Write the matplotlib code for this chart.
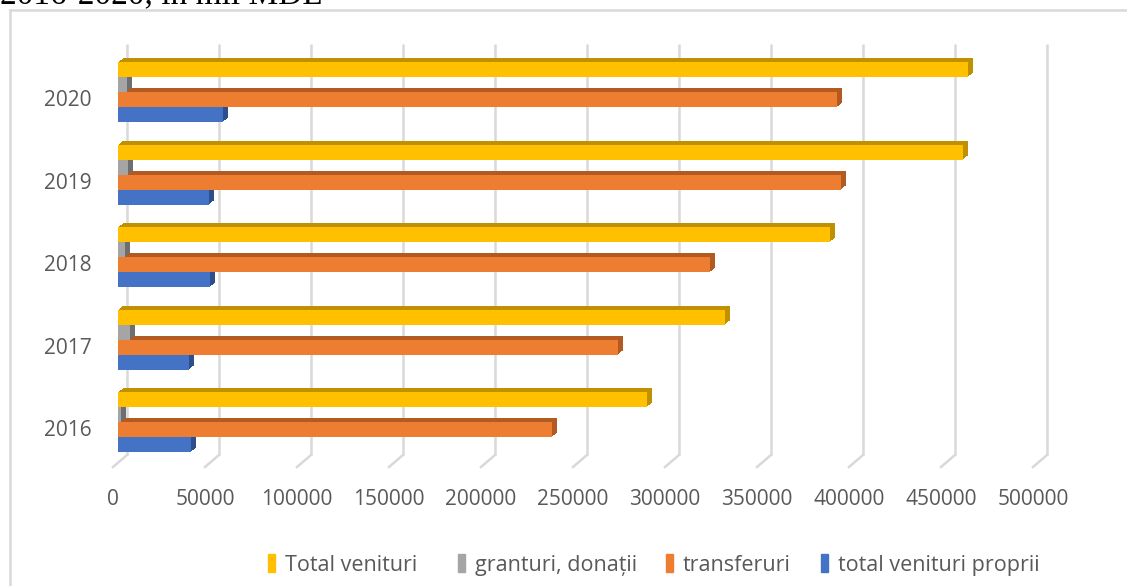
import matplotlib
matplotlib.use("Agg")
import matplotlib.pyplot as plt
import numpy as np
from matplotlib.transforms import ScaledTranslation, IdentityTransform
from matplotlib.lines import Line2D
from matplotlib.patches import Patch

# ---- data (mii MDL) ----
years = ["2016", "2017", "2018", "2019", "2020"]
total_venituri = [287500, 330000, 387000, 459000, 462000]
granturi_donatii = [1500, 6500, 3800, 5400, 4900]
transferuri = [236000, 272000, 322000, 393000, 391000]
venituri_proprii = [39700, 38600, 50000, 49500, 57000]
series_labels = ["Total venituri", "granturi, donații", "transferuri", "total venituri proprii"]
series_colors = ["#FFC000", "#A5A5A5", "#ED7D31", "#4472C4"]
x_ticks = list(range(0, 500001, 50000))
title_text = "2016-2020, în mii MDL"

W, H = 1127, 586
DPI = 100
fig = plt.figure(figsize=(W / DPI, H / DPI), dpi=DPI)
fig.patch.set_facecolor("white")

FONT = ["Open Sans", "DejaVu Sans"]
TXT = "#595959"
GRID = "#D9D9D9"

# axes in the "bar plane"
ax_left, ax_right, ax_top, ax_bottom = 118, 1038, 52, 463
ax = fig.add_axes([ax_left / W, (H - ax_bottom) / H, (ax_right - ax_left) / W, (ax_bottom - ax_top) / H])
ax.set_xlim(0, 500000)
ypos = np.arange(len(years))
ax.set_ylim(-0.424, 4.558)
for s in ax.spines.values():
    s.set_visible(False)
ax.patch.set_alpha(0)

def off(dx, dy):
    return ScaledTranslation(dx / DPI, dy / DPI, fig.dpi_scale_trans)

# back-plane gridlines
y0, y1 = ax.get_ylim()
ax.vlines(x_ticks, y0, y1, colors=GRID, linewidth=1.8,
          transform=ax.transData + off(9, 8), clip_on=False, zorder=0)

# floor diagonals
for t in x_ticks:
    px, py = ax.transData.transform((t, y0))
    fig.add_artist(Line2D([px + 9, px - 5], [py + 8, py - 4], transform=IdentityTransform(),
                          color=GRID, linewidth=1.8, zorder=0))

# bars
h = 0.182
offsets = {"total": 0.345, "gran": 0.163, "trans": -0.019, "prop": -0.2}
specs = [
    (venituri_proprii, offsets["prop"], "#4472C4", "#2E4F8C"),
    (transferuri, offsets["trans"], "#ED7D31", "#B35A22"),
    (granturi_donatii, offsets["gran"], "#A5A5A5", "#6E6E6E"),
    (total_venituri, offsets["total"], "#FFC000", "#BF9000"),
]
for vals, o, face, dark in specs:
    for k in range(1, 6):
        ax.barh(ypos + o, vals, height=h, color=dark, linewidth=0,
                transform=ax.transData + off(k, k * 0.8), zorder=2, clip_on=False)
    ax.barh(ypos + o, vals, height=h, color=face, linewidth=0, zorder=3)

# ticks
ax.set_xticks(x_ticks)
ax.set_xticklabels([str(t) for t in x_ticks])
ax.set_yticks(ypos)
ax.set_yticklabels(years)
ax.tick_params(axis="x", length=0, pad=19, labelsize=15, labelcolor=TXT)
ax.tick_params(axis="y", length=0, pad=19, labelsize=15, labelcolor=TXT)
for lab in ax.get_xticklabels() + ax.get_yticklabels():
    lab.set_family(FONT)
for lab in ax.get_xticklabels():
    lab.set_transform(lab.get_transform() + off(-5, 0))

# legend: one entry per box, placed at the source's marker positions
legend_x_px = [268, 458, 666, 821]
for lbl, col, xp in zip(series_labels, series_colors, legend_x_px):
    lg = fig.legend([Patch(color=col)], [lbl], loc="center left",
                    bbox_to_anchor=(xp / W, 1 - 565 / H), frameon=False,
                    prop={"family": FONT, "size": 15.5}, handlelength=0.33, handleheight=0.85,
                    handletextpad=0.45, borderpad=0, borderaxespad=0, labelcolor=TXT)

# chart border (left and top visible)
fig.add_artist(Line2D([10 / W, 10 / W], [0, 1 - 10 / H], transform=fig.transFigure, color=GRID, linewidth=1.8))
fig.add_artist(Line2D([10 / W, 1], [1 - 10 / H, 1 - 10 / H], transform=fig.transFigure, color=GRID, linewidth=1.8))

# heading, cut off at the top edge as in the source image
fig.text(0.0, 1 - 4 / H, title_text, family=["Liberation Serif", "DejaVu Serif"], fontsize=24,
         va="baseline", ha="left", color="black")

fig.savefig("out.png", dpi=DPI)
